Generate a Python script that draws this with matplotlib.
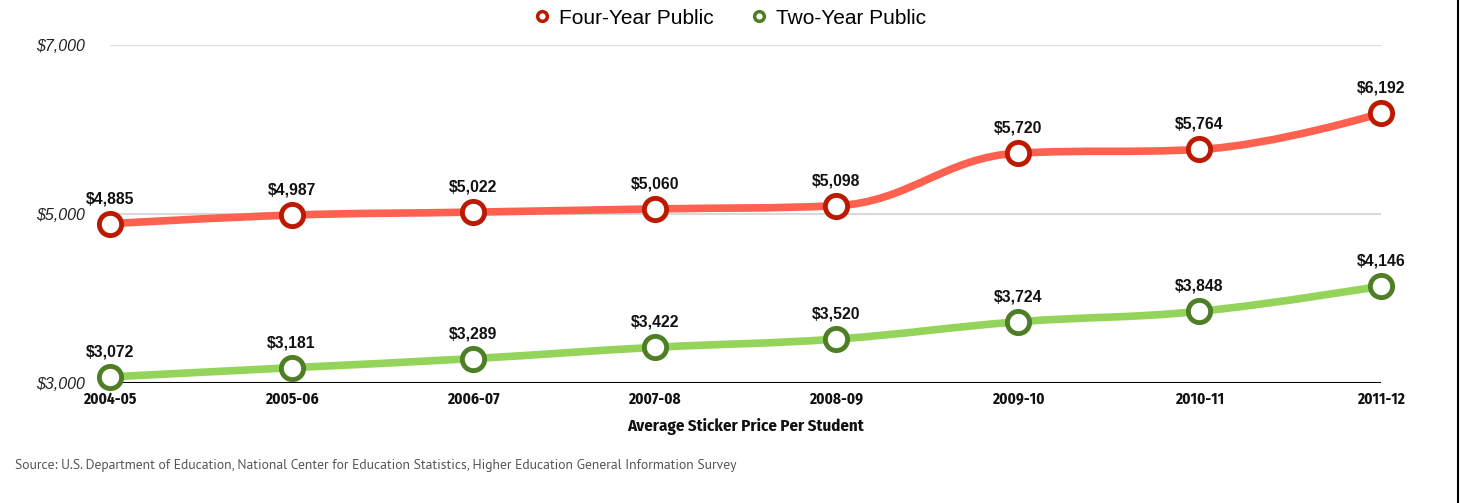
import matplotlib
matplotlib.use("Agg")
import matplotlib.pyplot as plt
from matplotlib.path import Path
from matplotlib.patches import PathPatch
from matplotlib.lines import Line2D

years = ["2004-05", "2005-06", "2006-07", "2007-08", "2008-09", "2009-10", "2010-11", "2011-12"]
four_year = [4885, 4987, 5022, 5060, 5098, 5720, 5764, 6192]
two_year = [3072, 3181, 3289, 3422, 3520, 3724, 3848, 4146]
y_ticks = [3000, 5000, 7000]
y_tick_labels = ["$3,000", "$5,000", "$7,000"]

W, H = 1461, 503
fig = plt.figure(figsize=(W / 100, H / 100), dpi=100)
ax = fig.add_axes([110 / W, 1 - 383 / H, (1381 - 110) / W, (383 - 45) / H])
ax.set_xlim(0, len(years) - 1)
ax.set_ylim(3000, 7000)

NARROW = ["Fira Sans Condensed", "PT Sans Narrow", "DejaVu Sans"]
SOURCE = ["PT Sans", "PT Sans Narrow", "DejaVu Sans"]


def spline_path(xs, ys):
    s = 1.5
    d = s + 1
    n = len(xs)
    rc = [None] * n
    verts = [(xs[0], ys[0])]
    codes = [Path.MOVETO]
    for i in range(n):
        x, y = xs[i], ys[i]
        lc = (x, y)
        if 0 < i < n - 1:
            lx, ly, nx, ny = xs[i - 1], ys[i - 1], xs[i + 1], ys[i + 1]
            lcx = (s * x + lx) / d
            lcy = (s * y + ly) / d
            rcx = (s * x + nx) / d
            rcy = (s * y + ny) / d
            corr = ((rcy - lcy) * (rcx - x)) / (rcx - lcx) + y - rcy
            lcy += corr
            rcy += corr
            if lcy > ly and lcy > y:
                lcy = max(ly, y); rcy = 2 * y - lcy
            elif lcy < ly and lcy < y:
                lcy = min(ly, y); rcy = 2 * y - lcy
            if rcy > ny and rcy > y:
                rcy = max(ny, y); lcy = 2 * y - rcy
            elif rcy < ny and rcy < y:
                rcy = min(ny, y); lcy = 2 * y - rcy
            lc = (lcx, lcy)
            rc[i] = (rcx, rcy)
        if i > 0:
            prev = rc[i - 1] if rc[i - 1] is not None else (xs[i - 1], ys[i - 1])
            verts += [prev, lc, (x, y)]
            codes += [Path.CURVE4] * 3
    return Path(verts, codes)


for t in y_ticks[1:]:
    ax.axhline(t, color="#d9d9d9", lw=1.5, zorder=1)
ax.axhline(3000, color="black", lw=1.5, zorder=1)
for sp in ax.spines.values():
    sp.set_visible(False)

xs = list(range(len(years)))
series = [
    (four_year, "#ff6150", "#bb1a00", "Four-Year Public"),
    (two_year, "#95d45a", "#4e7f25", "Two-Year Public"),
]
handles = []
for vals, lc, mc, name in series:
    p = PathPatch(spline_path(xs, vals), facecolor="none", edgecolor=lc, lw=5.5,
                  capstyle="round", zorder=2, clip_on=False)
    ax.add_patch(p)
    ax.plot(xs, vals, ls="none", marker="o", ms=16, mfc="white", mec=mc, mew=3.5,
            zorder=3, clip_on=False)
    for x, v in zip(xs, vals):
        ax.annotate(f"${v:,}", (x, v), xytext=(0, 18), textcoords="offset points",
                    ha="center", va="center", fontsize=11.3, fontweight="bold",
                    family="Liberation Sans", color="#111111")
    handles.append(Line2D([], [], ls="none", marker="o", ms=7, mfc="white", mec=mc,
                          mew=2.5, label=name))

ax.set_yticks(y_ticks)
ax.set_yticklabels(y_tick_labels, fontsize=11.5, style="italic", family="Liberation Sans",
                   color="#222222")
ax.tick_params(axis="y", length=0, pad=18)
ax.set_xticks(xs)
ax.set_xticklabels(years, fontsize=11, fontweight="bold", family=NARROW, color="#111111")
ax.tick_params(axis="x", length=0, pad=6)
ax.set_xlabel("Average Sticker Price Per Student", fontsize=12.2, fontweight="bold",
              family=NARROW, labelpad=8, color="#111111")

fig.legend(handles=handles, loc="center", bbox_to_anchor=(729 / W, 1 - 18 / H), ncol=2,
           frameon=False, prop={"family": "Liberation Sans", "size": 15},
           handletextpad=0.3, columnspacing=1.7, handlelength=1.0)

fig.text(15 / W, 1 - 466 / H,
         "Source: U.S. Department of Education, National Center for Education Statistics, Higher Education General Information Survey",
         ha="left", va="center", fontsize=9.8, family=SOURCE, color="#555555")

fig.add_artist(Line2D([1458 / W, 1458 / W], [0, 1], transform=fig.transFigure,
                      color="black", lw=1.5))

fig.savefig("out.png", dpi=100)
